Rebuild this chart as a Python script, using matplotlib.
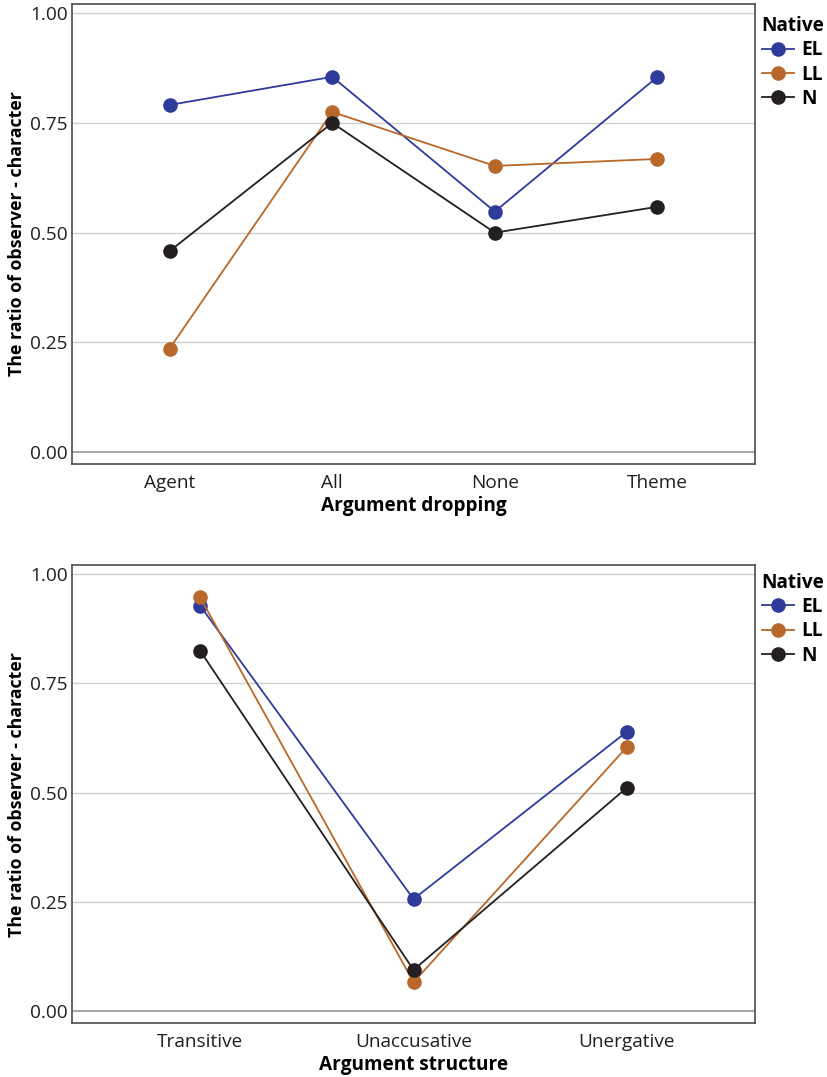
import numpy as np
import matplotlib.pyplot as plt

plt.rcParams['font.family'] = ['Open Sans', 'DejaVu Sans']

# データ
groups = ['EL', 'LL', 'N']
colors = {'EL': '#2e3b9a', 'LL': '#b8682b', 'N': '#231f20'}

drop_cats = ['Agent', 'All', 'None', 'Theme']
drop_EL = [0.791, 0.855, 0.548, 0.855]
drop_LL = [0.236, 0.775, 0.652, 0.668]
drop_N = [0.458, 0.750, 0.500, 0.559]

struct_cats = ['Transitive', 'Unaccusative', 'Unergative']
struct_EL = [0.928, 0.257, 0.640]
struct_LL = [0.947, 0.067, 0.605]
struct_N = [0.825, 0.095, 0.512]

yticks = [0.0, 0.25, 0.5, 0.75, 1.0]
ylab = 'The ratio of observer - character'
fs = 13.7

fig = plt.figure(figsize=(8.27, 10.77), dpi=100)
ax1 = fig.add_axes([0.0871, 0.5692, 0.8259, 0.4271])
ax2 = fig.add_axes([0.0871, 0.0499, 0.8259, 0.4255])


def draw(ax, cats, series, xlabel, leg_y):
    x = np.arange(1, len(cats) + 1)
    for g, vals in zip(groups, series):
        ax.plot(x, vals, color=colors[g], lw=1.3, marker='o', ms=9.5,
                label=g, zorder=3)
    ax.set_xlim(0.4, len(cats) + 0.6)
    ax.set_ylim(-0.027, 1.021)
    ax.set_xticks(x)
    ax.set_xticklabels(cats, fontsize=fs, color='#231f20')
    ax.set_yticks(yticks)
    ax.set_yticklabels([f'{t:.2f}' for t in yticks], fontsize=fs, color='#231f20')
    ax.tick_params(length=0)
    ax.tick_params(axis='x', pad=7)
    ax.tick_params(axis='y', pad=3)
    for t in yticks:
        c = '#a6a6a6' if t == 0 else '#cfcfcf'
        ax.axhline(t, color=c, lw=1.0 if t else 1.4, zorder=1)
    for s in ax.spines.values():
        s.set_color('#4d4d4d')
        s.set_linewidth(1.2)
    ax.set_xlabel(xlabel, fontsize=fs, fontweight='bold', labelpad=3)
    ax.set_ylabel(ylab, fontsize=12.8, fontweight='bold', labelpad=3)
    leg = ax.legend(loc='upper left', bbox_to_anchor=(0.921, leg_y),
                    bbox_transform=fig.transFigure, frameon=False,
                    title='Native', alignment='left', fontsize=fs,
                    title_fontproperties={'weight': 'bold', 'size': fs},
                    handlelength=1.7, handletextpad=0.4, labelspacing=0.22,
                    borderaxespad=0, borderpad=0)
    for t in leg.get_texts():
        t.set_fontweight('bold')


draw(ax1, drop_cats, [drop_EL, drop_LL, drop_N], 'Argument dropping', 0.985)
draw(ax2, struct_cats, [struct_EL, struct_LL, struct_N], 'Argument structure', 0.468)

fig.savefig('out.png', dpi=100)
